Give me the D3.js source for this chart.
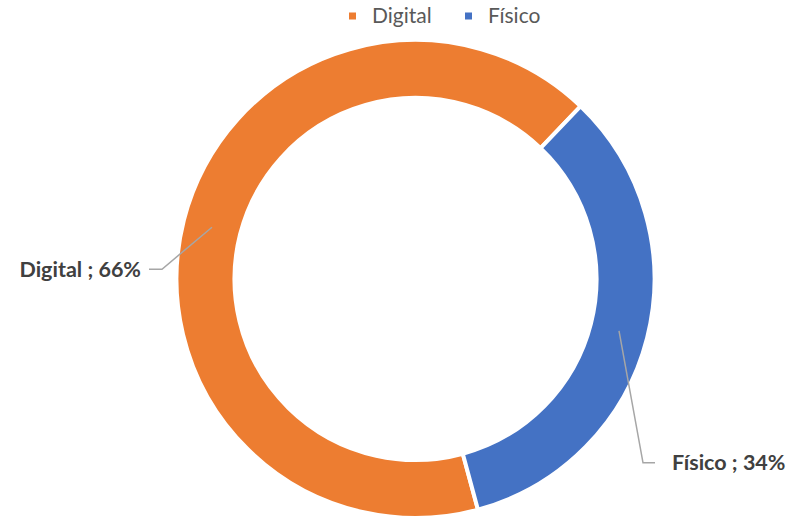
<!DOCTYPE html>
<html>
<head>
<meta charset="utf-8">
<script src="https://cdn.jsdelivr.net/npm/d3@7"></script>
<style>
  body { margin: 0; background: #fff; }
  svg { display: block; }
</style>
</head>
<body>
<script>
// chart data
var categories = ["Digital", "Físico"];
var values = [66.35, 33.65];
var colors = ["#ED7D31", "#4472C4"];

window.onload = drawChart();
function drawChart(){

  var width = 787,
      height = 518;

  var svg = d3.select("body")
      .append("svg")
      .attr("width", width)
      .attr("height", height);

  // ring geometry
  var cx = 415.5, cy = 279,
      outerR = 239, innerR = 181;

  var rows = categories.map(function(c, i){ return {name: c, value: values[i], color: colors[i]}; });
  var total = d3.sum(values);

  // first slice starts a little past 6 o'clock, like the original
  var start = 164.85 * Math.PI / 180;
  var pie = d3.pie()
      .sort(null)
      .value(function(d){ return d.value; })
      .startAngle(start)
      .endAngle(start + 2 * Math.PI);

  var arc = d3.arc()
      .innerRadius(innerR)
      .outerRadius(outerR);

  var g = svg.append("g")
      .attr("transform", "translate(" + cx + "," + cy + ")");

  var arcs = pie(rows);

  g.selectAll(".slice")
      .data(arcs)
      .enter()
      .append("path")
      .attr("class", "slice")
      .attr("d", arc)
      .attr("fill", function(d){ return d.data.color; })
      .attr("stroke", "#fff")
      .attr("stroke-width", 4)
      .attr("stroke-linejoin", "miter");

  // label placement (offsets from the slice centroid)
  var labelPos = {
    "Digital": {elbow: [-50, 42], end: [-63, 42], text: [-71, 42], anchor: "end"},
    "Físico":  {elbow: [24, 132], end: [36, 132], text: [53, 132], anchor: "start"}
  };

  arcs.forEach(function(d){
    var c = arc.centroid(d),
        p = labelPos[d.data.name];
    g.append("polyline")
        .attr("points", [c, [c[0] + p.elbow[0], c[1] + p.elbow[1]], [c[0] + p.end[0], c[1] + p.end[1]]].map(function(q){ return q.join(","); }).join(" "))
        .attr("fill", "none")
        .attr("stroke", "#A6A6A6")
        .attr("stroke-width", 1.5);
    g.append("text")
        .attr("x", c[0] + p.text[0])
        .attr("y", c[1] + p.text[1])
        .attr("dy", "0.35em")
        .attr("text-anchor", p.anchor)
        .attr("font-family", "Lato, 'Open Sans', sans-serif")
        .attr("font-weight", "bold")
        .attr("font-size", 21.5)
        .attr("fill", "#404040")
        .text(d.data.name + " ; " + Math.round(d.data.value / total * 100) + "%");
  });

  // legend
  var legendX = [349, 465];
  var legend = svg.selectAll(".legend")
      .data(rows)
      .enter()
      .append("g")
      .attr("class", "legend")
      .attr("transform", function(d, i){ return "translate(" + legendX[i] + ",16)"; });

  legend.append("rect")
      .attr("x", 0)
      .attr("y", -3.5)
      .attr("width", 7)
      .attr("height", 7)
      .attr("fill", function(d){ return d.color; });

  legend.append("text")
      .attr("x", 23)
      .attr("y", 0)
      .attr("dy", "0.35em")
      .attr("font-family", "Lato, 'Open Sans', sans-serif")
      .attr("font-size", 21)
      .attr("fill", "#595959")
      .text(function(d){ return d.name; });
};
</script>
</body>
</html>
